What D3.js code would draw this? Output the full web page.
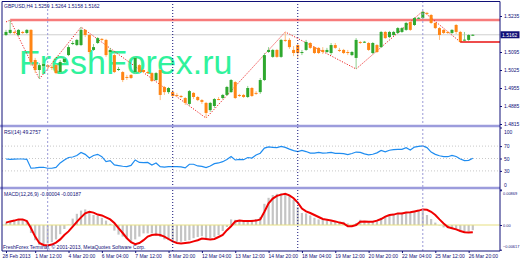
<!DOCTYPE html>
<html>
<head>
<meta charset="utf-8">
<script src="https://cdn.jsdelivr.net/npm/d3@7"></script>
<style>
  body { margin: 0; background: #fff; }
  svg { display: block; }
  text { font-family: "Liberation Sans", Arial, sans-serif; }
</style>
</head>
<body>
<div id="chart"></div>
<script>
// GBPUSD H4 candles, 28 Feb - 26 Mar 2013
const opens = [1.5161,1.5169,1.5173,1.5161,1.5173,1.5169,1.5181,1.5064,1.5025,1.5041,1.5044,1.5037,1.5044,1.5017,1.5056,1.5083,1.5126,1.5122,1.5122,1.5181,1.5161,1.5103,1.5130,1.5146,1.5142,1.5095,1.5083,1.5025,1.5017,1.4998,1.5006,1.5017,1.5044,1.5025,1.5017,1.5013,1.4986,1.5025,1.4959,1.4939,1.4939,1.4928,1.4924,1.4916,1.4893,1.4936,1.4920,1.4908,1.4897,1.4869,1.4885,1.4912,1.4916,1.4928,1.4939,1.4978,1.4928,1.4928,1.4920,1.4955,1.4936,1.4939,1.4986,1.5095,1.5076,1.5103,1.5076,1.5142,1.5142,1.5103,1.5122,1.5091,1.5103,1.5130,1.5114,1.5111,1.5103,1.5095,1.5091,1.5122,1.5103,1.5103,1.5095,1.5083,1.5072,1.5134,1.5134,1.5130,1.5091,1.5122,1.5114,1.5173,1.5153,1.5161,1.5169,1.5173,1.5181,1.5212,1.5200,1.5227,1.5227,1.5247,1.5239,1.5208,1.5188,1.5181,1.5173,1.5169,1.5200,1.5173,1.5142,1.5142,1.5161]
const highs = [1.5181,1.5219,1.5177,1.5184,1.5177,1.5184,1.5184,1.5072,1.5052,1.5052,1.5048,1.5044,1.5048,1.5064,1.5076,1.5122,1.5138,1.5146,1.5192,1.5184,1.5165,1.5126,1.5153,1.5149,1.5146,1.5111,1.5091,1.5037,1.5021,1.5006,1.5009,1.5076,1.5048,1.5029,1.5021,1.5017,1.5017,1.5029,1.4963,1.4959,1.4947,1.4936,1.4928,1.4920,1.4947,1.4939,1.4924,1.4912,1.4901,1.4901,1.4916,1.4920,1.4932,1.4963,1.4990,1.4982,1.4932,1.4932,1.4963,1.4959,1.4943,1.4994,1.5091,1.5114,1.5107,1.5107,1.5146,1.5173,1.5149,1.5118,1.5126,1.5103,1.5142,1.5134,1.5118,1.5114,1.5114,1.5111,1.5130,1.5130,1.5111,1.5107,1.5103,1.5099,1.5149,1.5138,1.5138,1.5134,1.5134,1.5126,1.5177,1.5177,1.5177,1.5177,1.5192,1.5192,1.5212,1.5216,1.5231,1.5231,1.5254,1.5251,1.5243,1.5212,1.5192,1.5184,1.5177,1.5184,1.5204,1.5177,1.5173,1.5165,1.5165]
const lows = [1.5157,1.5165,1.5161,1.5157,1.5165,1.5165,1.5041,1.5013,1.4990,1.5033,1.5029,1.5025,1.5009,1.5013,1.5052,1.5079,1.5122,1.5118,1.5118,1.5153,1.5087,1.5099,1.5126,1.5138,1.5076,1.5091,1.5013,1.5021,1.4978,1.4986,1.4990,1.5009,1.5013,1.5013,1.5009,1.4978,1.4982,1.4908,1.4928,1.4932,1.4920,1.4920,1.4916,1.4889,1.4885,1.4912,1.4904,1.4893,1.4838,1.4862,1.4877,1.4908,1.4912,1.4924,1.4936,1.4912,1.4920,1.4916,1.4916,1.4920,1.4928,1.4932,1.4982,1.5091,1.5072,1.5072,1.5072,1.5134,1.5107,1.5079,1.5072,1.5083,1.5099,1.5107,1.5087,1.5087,1.5087,1.5091,1.5083,1.5107,1.5095,1.5087,1.5083,1.5079,1.5029,1.5126,1.5130,1.5099,1.5087,1.5091,1.5111,1.5146,1.5149,1.5157,1.5165,1.5169,1.5177,1.5177,1.5196,1.5223,1.5223,1.5239,1.5204,1.5184,1.5142,1.5165,1.5165,1.5165,1.5165,1.5130,1.5138,1.5138,1.5157]
const closes = [1.5173,1.5181,1.5169,1.5181,1.5169,1.5181,1.5056,1.5025,1.5044,1.5048,1.5037,1.5036,1.5013,1.5056,1.5068,1.5114,1.5130,1.5142,1.5181,1.5161,1.5095,1.5114,1.5149,1.5142,1.5083,1.5103,1.5017,1.5029,1.4986,1.4997,1.4994,1.5072,1.5017,1.5017,1.5013,1.4982,1.5013,1.4928,1.4939,1.4955,1.4924,1.4927,1.4920,1.4897,1.4943,1.4920,1.4908,1.4901,1.4858,1.4897,1.4912,1.4911,1.4928,1.4959,1.4986,1.4916,1.4924,1.4920,1.4955,1.4924,1.4935,1.4986,1.5083,1.5103,1.5103,1.5076,1.5142,1.5141,1.5114,1.5091,1.5091,1.5095,1.5134,1.5111,1.5091,1.5091,1.5095,1.5103,1.5122,1.5111,1.5102,1.5091,1.5091,1.5095,1.5142,1.5133,1.5135,1.5103,1.5130,1.5095,1.5173,1.5149,1.5173,1.5173,1.5188,1.5188,1.5208,1.5181,1.5227,1.5228,1.5251,1.5246,1.5208,1.5188,1.5161,1.5169,1.5169,1.5181,1.5173,1.5134,1.5143,1.5161,1.5162]
const titleQuote = ["1.5259", "1.5264", "1.5158", "1.5162"]

// ZigZag swing points (bar index, price)
const zigzagBars = [0, 1, 8, 18, 48, 67, 84, 100, 109]
const zigzagPrices = [1.5212, 1.5219, 1.4990, 1.5192, 1.4838, 1.5173, 1.5029, 1.5254, 1.5134]
const resistanceLevel = 1.5219
const resistanceFrom = 1
const supportLevel = 1.5134
const supportFrom = 109

// RSI(14)
const rsi = [49.2,48.7,48.9,49.2,49.2,48.7,34.3,34.8,35.6,35.9,34.3,34.3,35.6,42.8,47.6,51.6,52.4,54.8,59.6,56.7,50.8,54.8,56.7,52.9,44.9,46.5,39.6,38.5,37.5,37.0,38.8,47.6,43.6,43.4,43.6,39.6,42.8,36.9,36.1,36.9,36.9,36.9,36.4,34.8,40.7,40.7,38.0,37.2,35.3,38.0,41.7,42.8,44.9,48.4,53.2,47.6,48.6,48.1,51.6,50.8,55.6,58.5,66.8,68.7,68.1,67.6,69.5,67.9,65.2,62.8,61.2,63.1,61.2,58.8,58.8,59.8,58.8,59.1,59.9,58.3,58.3,57.8,56.4,58.0,60.4,59.9,57.5,55.9,56.9,59.1,63.1,60.9,63.3,64.2,64.7,64.7,67.3,63.6,68.4,69.7,70.3,67.6,60.4,56.7,54.5,52.9,52.9,55.0,53.2,49.2,46.5,47.0,50.3]
const rsiLevels = [70, 50, 30]
const rsiTicks = [100, 70, 50, 30, 0]

// MACD histogram and signal
const macdHist = [0.0006,0.0009,0.0011,0.0013,0.0014,0.0010,-0.0020,-0.0038,-0.0050,-0.0050,-0.0046,-0.0043,-0.0036,-0.0023,-0.0010,0.0001,0.0016,0.0028,0.0036,0.0039,0.0031,0.0025,0.0023,0.0018,0.0011,0.0003,-0.0014,-0.0024,-0.0029,-0.0035,-0.0041,-0.0036,-0.0029,-0.0021,-0.0021,-0.0021,-0.0026,-0.0030,-0.0036,-0.0038,-0.0041,-0.0042,-0.0042,-0.0040,-0.0038,-0.0033,-0.0030,-0.0028,-0.0033,-0.0033,-0.0030,-0.0025,-0.0015,-0.0005,0.0014,0.0013,0.0011,0.0011,0.0011,0.0013,0.0015,0.0020,0.0053,0.0068,0.0075,0.0078,0.0079,0.0078,0.0073,0.0063,0.0045,0.0030,0.0029,0.0024,0.0018,0.0014,0.0013,0.0011,0.0009,0.0008,0.0008,0.0008,0.0004,-0.0003,0.0005,0.0013,0.0009,0.0008,0.0008,0.0013,0.0018,0.0021,0.0025,0.0026,0.0029,0.0031,0.0031,0.0031,0.0033,0.0036,0.0035,0.0025,0.0015,0.0006,-0.0001,-0.0006,-0.0008,-0.0008,-0.0012,-0.0017,-0.0019,-0.0016,-0.0013]
const macdSignal = [0.0006,0.0009,0.0011,0.0014,0.0014,0.0010,-0.0008,-0.0029,-0.0045,-0.0050,-0.0051,-0.0049,-0.0044,-0.0036,-0.0025,-0.0016,-0.0004,0.0008,0.0019,0.0029,0.0033,0.0031,0.0026,0.0024,0.0019,0.0014,0.0005,-0.0008,-0.0020,-0.0033,-0.0043,-0.0048,-0.0045,-0.0038,-0.0029,-0.0025,-0.0024,-0.0025,-0.0029,-0.0035,-0.0041,-0.0045,-0.0046,-0.0045,-0.0044,-0.0041,-0.0038,-0.0034,-0.0035,-0.0036,-0.0035,-0.0030,-0.0025,-0.0013,-0.0003,0.0009,0.0011,0.0010,0.0010,0.0010,0.0011,0.0014,0.0033,0.0054,0.0066,0.0073,0.0076,0.0078,0.0074,0.0067,0.0056,0.0041,0.0034,0.0030,0.0025,0.0020,0.0015,0.0013,0.0011,0.0009,0.0006,0.0004,-0.0003,-0.0003,0.0000,0.0008,0.0009,0.0008,0.0008,0.0011,0.0015,0.0021,0.0025,0.0026,0.0029,0.0029,0.0031,0.0032,0.0034,0.0036,0.0039,0.0038,0.0033,0.0025,0.0014,0.0004,-0.0005,-0.0008,-0.0011,-0.0015,-0.0018,-0.0019,-0.0018]
const macdTicks = [0.00869, 0, -0.00617]

// axes
const priceTicks = [1.5235, 1.5165, 1.5095, 1.5025, 1.4955, 1.4885, 1.4815]
const timeTicks = [0, 7, 15, 23, 31, 39, 47, 55, 63, 71, 79, 87, 95, 103, 111]
const timeLabels = ["28 Feb 2013", "1 Mar 12:00", "4 Mar 20:00", "6 Mar 04:00", "7 Mar 12:00", "8 Mar 20:00", "12 Mar 04:00", "13 Mar 12:00", "14 Mar 20:00", "18 Mar 04:00", "19 Mar 12:00", "20 Mar 20:00", "22 Mar 04:00", "25 Mar 12:00", "26 Mar 20:00"]
const weekStarts = [10, 40, 70, 100]

const navy = "#101078"
const W = 520, H = 260
const left = 2, right = 500

const svg = d3.select("#chart").append("svg")
  .attr("width", W)
  .attr("height", H)
  .style("background", "#fff")

const x = d3.scaleLinear().domain([0, closes.length - 1]).range([6, 6 + (closes.length - 1) * 4.168])
const yP = d3.scaleLinear().domain([1.4815, 1.5235]).range([124, 16])
const yR = d3.scaleLinear().domain([0, 100]).range([189.5, 127.5])
const yM = d3.scaleLinear().domain([-0.00625, 0.00875]).range([250, 190])

const defs = svg.append("defs")
const clips = [["clipMain", 1, 125], ["clipRsi", 127, 188], ["clipMacd", 189, 251]]
clips.forEach(([id, y0, y1]) => {
  defs.append("clipPath").attr("id", id)
    .append("rect").attr("x", left).attr("y", y0).attr("width", right - left).attr("height", y1 - y0)
})

// ---------- main pane ----------
const main = svg.append("g").attr("clip-path", "url(#clipMain)")

main.append("text")
  .attr("x", 19).attr("y", 74)
  .attr("font-size", 34)
  .attr("fill", "#30f29c")
  .text("FreshForex.ru")

main.append("line")
  .attr("x1", x(resistanceFrom)).attr("x2", right)
  .attr("y1", yP(resistanceLevel)).attr("y2", yP(resistanceLevel))
  .attr("stroke", "#f77b7b").attr("stroke-width", 2.5)

const last = closes[closes.length - 1]
main.append("line")
  .attr("x1", left).attr("x2", right)
  .attr("y1", yP(last)).attr("y2", yP(last))
  .attr("stroke", "#cfcfcf").attr("stroke-width", 1)

main.append("path")
  .attr("d", d3.line().x((d, k) => x(zigzagBars[k])).y(d => yP(d))(zigzagPrices))
  .attr("fill", "none")
  .attr("stroke", "#ee2020")
  .attr("stroke-width", 1)
  .attr("stroke-dasharray", "1.2,1.5")

const bars = d3.range(closes.length)
const isUp = i => closes[i] >= opens[i]

main.selectAll("line.wick").data(bars).join("line")
  .attr("class", "wick")
  .attr("x1", i => x(i)).attr("x2", i => x(i))
  .attr("y1", i => yP(highs[i])).attr("y2", i => yP(lows[i]))
  .attr("stroke", i => isUp(i) ? "#8fd08f" : "#ffbf80")
  .attr("stroke-width", 1)

main.selectAll("rect.body").data(bars).join("rect")
  .attr("class", "body")
  .attr("x", i => x(i) - 1.5)
  .attr("width", 3)
  .attr("y", i => yP(Math.max(opens[i], closes[i])))
  .attr("height", i => Math.max(1, Math.abs(yP(opens[i]) - yP(closes[i]))))
  .attr("fill", i => isUp(i) ? "#2fa82f" : "#ff8514")

main.append("line")
  .attr("x1", x(supportFrom)).attr("x2", right)
  .attr("y1", yP(supportLevel)).attr("y2", yP(supportLevel))
  .attr("stroke", "#e81010").attr("stroke-width", 1.5)

// ---------- RSI pane ----------
const rsiG = svg.append("g").attr("clip-path", "url(#clipRsi)")
rsiG.selectAll("line.level").data(rsiLevels).join("line")
  .attr("class", "level")
  .attr("x1", left).attr("x2", right)
  .attr("y1", d => yR(d)).attr("y2", d => yR(d))
  .attr("stroke", "#c8c8c8").attr("stroke-dasharray", "1,2")
rsiG.append("path")
  .attr("d", d3.line().x((d, i) => x(i)).y(d => yR(d))(rsi))
  .attr("fill", "none")
  .attr("stroke", "#1e8cf0")
  .attr("stroke-width", 1.2)

// ---------- MACD pane ----------
const macdG = svg.append("g").attr("clip-path", "url(#clipMacd)")
macdG.selectAll("line.hist").data(bars).join("line")
  .attr("class", "hist")
  .attr("x1", i => x(i)).attr("x2", i => x(i))
  .attr("y1", yM(0)).attr("y2", i => yM(macdHist[i]))
  .attr("stroke", "#c4c4c4").attr("stroke-width", 2.2)
macdG.append("line")
  .attr("x1", left).attr("x2", right)
  .attr("y1", yM(0)).attr("y2", yM(0))
  .attr("stroke", "#e6df80").attr("stroke-width", 1)
macdG.append("path")
  .attr("d", d3.line().x((d, i) => x(i)).y(d => yM(d))(macdSignal))
  .attr("fill", "none")
  .attr("stroke", "#f00000")
  .attr("stroke-width", 2)

// week separators
svg.selectAll("line.sep").data(weekStarts).join("line")
  .attr("class", "sep")
  .attr("x1", d => x(d)).attr("x2", d => x(d))
  .attr("y1", 1).attr("y2", 251)
  .attr("stroke", (d, k) => (k === 1 || k === 2) ? navy : "#9a9ad8")
  .attr("stroke-dasharray", (d, k) => (k === 1 || k === 2) ? "1,2" : "2,2")
  .attr("stroke-width", 1)

// pane separators and frame
;[126, 188].forEach(y => {
  svg.append("line").attr("x1", 0).attr("x2", right)
    .attr("y1", y).attr("y2", y)
    .attr("stroke", "#9c9cdc").attr("stroke-width", 2.5)
})
svg.append("path")
  .attr("d", `M${left},251 V1.5 H${right} V251 H${left}`)
  .attr("fill", "none").attr("stroke", navy).attr("stroke-width", 1)

// ---------- labels ----------
const small = 5
svg.append("text").attr("x", 4).attr("y", 8).attr("font-size", small).attr("fill", navy)
  .text(`GBPUSD,H4 ${titleQuote.join(" ")}`)
svg.append("text").attr("x", 4).attr("y", 134).attr("font-size", small).attr("fill", navy)
  .text("RSI(14) 49.2757")
svg.append("text").attr("x", 4).attr("y", 196).attr("font-size", small).attr("fill", navy)
  .text("MACD(12,26,9) -0.00004 -0.00187")
svg.append("text").attr("x", 3).attr("y", 248.5).attr("font-size", small).attr("fill", navy)
  .text("FreshForex Terminal, \u00a9 2001-2013, MetaQuotes Software Corp.")

function styleAxis(g) {
  g.select(".domain").remove()
  g.selectAll(".tick line").attr("stroke", navy)
  g.selectAll(".tick text").attr("fill", navy).attr("font-size", small)
    .attr("font-family", "Liberation Sans, Arial, sans-serif")
}

// price labels; the one under the current price marker is hidden
svg.append("g").attr("transform", `translate(${right},0)`)
  .call(d3.axisRight(yP).tickValues(priceTicks.filter(p => Math.abs(yP(p) - yP(last)) > 5))
    .tickFormat(d3.format(".4f")).tickSize(2).tickPadding(2))
  .call(styleAxis)

svg.append("g").attr("transform", `translate(${right},0)`)
  .call(d3.axisRight(yR).tickValues(rsiTicks).tickFormat(d3.format("d")).tickSize(2).tickPadding(2))
  .call(styleAxis)
  .call(g => g.selectAll(".tick text").attr("dy", d => d === 100 ? "1.1em" : d === 0 ? "-0.6em" : "0.32em"))

svg.append("g").attr("transform", `translate(${right},0)`)
  .call(d3.axisRight(yM).tickValues(macdTicks).tickFormat(d => d === 0 ? "0.00" : d3.format(".5f")(d)).tickSize(2).tickPadding(1))
  .call(styleAxis)
  .call(g => g.selectAll(".tick text").attr("font-size", 3.9)
    .attr("dy", d => d > 0 ? "1.1em" : d < 0 ? "-0.5em" : "0.32em"))

svg.append("g").attr("transform", `translate(0,251)`)
  .call(d3.axisBottom(x).tickValues(timeTicks).tickFormat((d, k) => timeLabels[k]).tickSize(2).tickPadding(1))
  .call(styleAxis)
  .call(g => g.selectAll(".tick text").attr("text-anchor", "start").attr("x", d => d === 0 ? -4 : -0.5))

// current price marker
svg.append("rect").attr("x", right + 0.5).attr("y", yP(last) - 3.5).attr("width", 19).attr("height", 7).attr("fill", navy)
svg.append("text").attr("x", right + 2).attr("y", yP(last)).attr("dy", "0.35em")
  .attr("font-size", small).attr("fill", "#fff").text(d3.format(".4f")(last))
</script>
</body>
</html>
